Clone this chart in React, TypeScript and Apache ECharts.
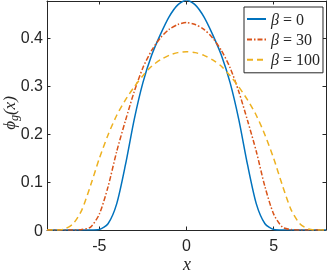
import React, { useEffect, useRef } from "react";
import * as echarts from "echarts";

const xValues = [-8, -7.5, -7, -6.5, -6, -5.5, -5, -4.5, -4, -3.5, -3, -2.5, -2, -1.5, -1, -0.5, 0, 0.5, 1, 1.5, 2, 2.5, 3, 3.5, 4, 4.5, 5, 5.5, 6, 6.5, 7, 7.5, 8];

const beta0 = [0, 0, 0, 0, 0, 0, 0.001, 0.013, 0.055, 0.136, 0.23, 0.307, 0.364, 0.407, 0.444, 0.469, 0.479, 0.469, 0.444, 0.407, 0.364, 0.307, 0.23, 0.136, 0.055, 0.013, 0.001, 0, 0, 0, 0, 0, 0];
const beta30 = [0, 0, 0, 0, 0.001, 0.006, 0.033, 0.09, 0.164, 0.228, 0.288, 0.338, 0.374, 0.4, 0.418, 0.428, 0.432, 0.428, 0.418, 0.4, 0.374, 0.338, 0.288, 0.228, 0.164, 0.09, 0.033, 0.006, 0.001, 0, 0, 0, 0];
const beta100 = [0, 0, 0.002, 0.013, 0.042, 0.093, 0.149, 0.198, 0.239, 0.271, 0.298, 0.3215, 0.341, 0.3545, 0.3638, 0.3695, 0.3715, 0.3695, 0.3638, 0.3545, 0.341, 0.3215, 0.298, 0.271, 0.239, 0.198, 0.149, 0.093, 0.042, 0.013, 0.002, 0, 0];

const seriesNames = ["β = 0", "β = 30", "β = 100"];
const seriesValues = [beta0, beta30, beta100];
const seriesColors = ["#0072BD", "#D95319", "#EDB120"];
const seriesDash: any[] = ["solid", [5, 2, 1.5, 2], [6, 4]];

const xTicks = [-5, 0, 5];
const yTicks = [0, 0.1, 0.2, 0.3, 0.4];

const AXIS = "#262626";

export default function App() {
  const ref = useRef<HTMLDivElement>(null);
  useEffect(() => {
    const chart = echarts.init(ref.current!, null, { renderer: "svg" });
    const axisCommon = {
      type: "value" as const,
      axisLine: { show: true, onZero: false, lineStyle: { color: AXIS, width: 1 } },
      splitLine: { show: false },
    };
    chart.setOption({
      animation: false,
      grid: { left: 47, right: 1, top: 1, bottom: 43, outerBoundsMode: "none" },
      xAxis: [
        {
          ...axisCommon,
          position: "bottom",
          min: -8,
          max: 8,
          axisTick: { show: true, inside: true, length: 3.5, customValues: xTicks, lineStyle: { color: AXIS } },
          axisLabel: {
            customValues: xTicks,
            margin: 7,
            fontSize: 16,
            fontFamily: "Liberation Sans, Arial, sans-serif",
            color: AXIS,
          },
        },
        {
          ...axisCommon,
          position: "top",
          min: -8,
          max: 8,
          axisTick: { show: true, inside: true, length: 3.5, customValues: xTicks, lineStyle: { color: AXIS } },
          axisLabel: { show: false },
        },
      ],
      yAxis: [
        {
          ...axisCommon,
          position: "left",
          min: 0,
          max: 0.477,
          axisTick: { show: true, inside: true, length: 3.5, customValues: yTicks, lineStyle: { color: AXIS } },
          axisLabel: {
            customValues: yTicks,
            margin: 4,
            fontSize: 16,
            fontFamily: "Liberation Sans, Arial, sans-serif",
            color: AXIS,
          },
        },
        {
          ...axisCommon,
          position: "right",
          min: 0,
          max: 0.477,
          axisTick: { show: true, inside: true, length: 3.5, customValues: yTicks, lineStyle: { color: AXIS } },
          axisLabel: { show: false },
        },
      ],
      legend: {
        orient: "vertical",
        left: 244,
        top: 7,
        padding: [4, 3, 5, 2],
        itemWidth: 19,
        itemHeight: 14,
        itemGap: 4.4,
        backgroundColor: "#ffffff",
        borderColor: AXIS,
        borderWidth: 1,
        borderRadius: 0,
        data: seriesNames,
        itemStyle: { opacity: 0, borderWidth: 0 },
        formatter: (name: string) => {
          const rest = name.slice(1);
          return "{i|β}{r|" + rest + "}";
        },
        textStyle: {
          color: AXIS,
          lineHeight: 14,
          rich: {
            i: { fontFamily: "Liberation Serif, DejaVu Serif, serif", fontStyle: "italic", fontSize: 16, color: AXIS, lineHeight: 14 },
            r: { fontFamily: "Liberation Serif, DejaVu Serif, serif", fontSize: 16, color: AXIS, lineHeight: 14 },
          },
        },
      },
      graphic: [
        {
          type: "text",
          x: 187,
          y: 264,
          style: {
            text: "x",
            fontFamily: "Liberation Serif, DejaVu Serif, serif",
            fontStyle: "italic",
            fontSize: 18,
            fill: AXIS,
            align: "center",
            verticalAlign: "middle",
          },
        },
        {
          type: "text",
          x: 9,
          y: 113,
          rotation: Math.PI / 2,
          style: {
            text: "{a|ϕ}{s|g}{a|(}{i|x}{a|)}",
            align: "center",
            verticalAlign: "middle",
            fill: AXIS,
            rich: {
              a: { fontFamily: "Liberation Serif, DejaVu Serif, serif", fontStyle: "italic", fontSize: 17, lineHeight: 22, fill: AXIS },
              i: { fontFamily: "Liberation Serif, DejaVu Serif, serif", fontStyle: "italic", fontSize: 17, lineHeight: 22, fill: AXIS },
              s: { fontFamily: "Liberation Serif, DejaVu Serif, serif", fontStyle: "italic", fontSize: 12, lineHeight: 12, verticalAlign: "bottom", fill: AXIS },
            },
          },
        },
      ],
      series: seriesNames.map((name, k) => ({
        name,
        type: "line",
        xAxisIndex: 0,
        yAxisIndex: 0,
        data: xValues.map((x, i) => [x, seriesValues[k][i]]),
        showSymbol: false,
        symbol: "none",
        smooth: 0.25,
        clip: true,
        color: seriesColors[k],
        lineStyle: { color: seriesColors[k], width: 1.5, type: seriesDash[k] },
      })),
    });
    return () => chart.dispose();
  }, []);
  return <div ref={ref} style={{ position: "fixed", left: 0, top: 0, width: 327, height: 273 }} />;
}
